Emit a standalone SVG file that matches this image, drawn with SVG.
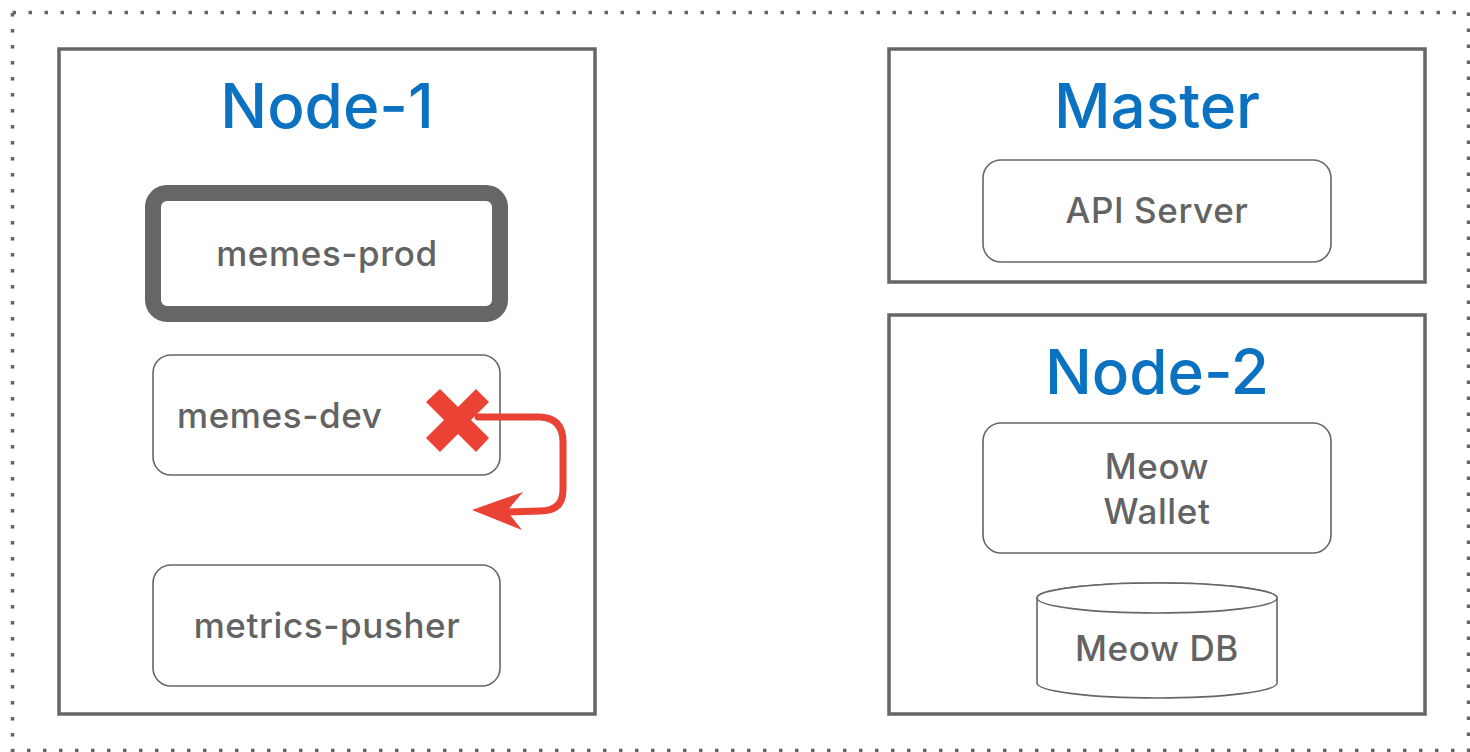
<svg xmlns="http://www.w3.org/2000/svg" width="1470" height="752" viewBox="0 0 1470 752">
  <style>
    .frame { fill: none; stroke: #666666; stroke-width: 3.5; stroke-dasharray: 3.5 12.5; }
    .group { fill: #ffffff; stroke: #666666; stroke-width: 3.5; }
    .box { fill: #ffffff; stroke: #666666; stroke-width: 1.6; }
    .box-bold { fill: #ffffff; stroke: #666666; stroke-width: 16; }
    .title { font-family: Inter, Roboto, "Liberation Sans", sans-serif; font-weight: 500; font-size: 62px; fill: #0a72c0; text-anchor: middle; }
    .label { font-family: Inter, Roboto, "Liberation Sans", sans-serif; font-weight: 500; font-size: 35px; letter-spacing: 0.6px; fill: #636363; text-anchor: middle; }
    .fail { fill: #ea4335; }
    .fail-line { fill: none; stroke: #ea4335; stroke-width: 7; stroke-linecap: round; }
  </style>

  <rect width="1470" height="752" fill="#ffffff"/>

  <!-- cluster boundary -->
  <rect class="frame" x="12.5" y="12.5" width="1456" height="738"/>

  <g id="node-1">
    <rect class="group" x="59" y="49" width="536" height="665"/>
    <text class="title" x="327" y="128">Node-1</text>
  </g>

  <g id="memes-prod">
    <rect class="box-bold" x="153" y="193" width="347" height="121" rx="14"/>
    <text class="label" x="327" y="266">memes-prod</text>
  </g>

  <g id="memes-dev">
    <rect class="box" x="153" y="355" width="347" height="120" rx="18"/>
    <text class="label" x="177" y="428" style="text-anchor:start">memes-dev</text>
  </g>

  <g id="metrics-pusher">
    <rect class="box" x="153" y="565" width="347" height="121" rx="18"/>
    <text class="label" x="327" y="638">metrics-pusher</text>
  </g>

  <g id="master">
    <rect class="group" x="889" y="49" width="536" height="233"/>
    <text class="title" x="1157" y="128">Master</text>
  </g>

  <g id="api-server">
    <rect class="box" x="983" y="160" width="348" height="102" rx="18"/>
    <text class="label" x="1157" y="223">API Server</text>
  </g>

  <g id="node-2">
    <rect class="group" x="889" y="315" width="536" height="399"/>
    <text class="title" x="1157" y="394">Node-2</text>
  </g>

  <g id="meow-wallet">
    <rect class="box" x="983" y="423" width="348" height="130" rx="18"/>
    <text class="label" x="1157" y="479">Meow</text>
    <text class="label" x="1157" y="524">Wallet</text>
  </g>

  <g id="meow-db">
    <path class="box" d="M1037 598 L1037 683 A120 15 0 0 0 1277 683 L1277 598 A120 15 0 0 0 1037 598 Z"/>
    <ellipse class="box" cx="1157" cy="598" rx="120" ry="15"/>
    <text class="label" x="1157" y="661">Meow DB</text>
  </g>

  <g id="connectors">
    <!-- failed pod rescheduling arrow -->
    <path class="fail-line" d="M478 417 L540 417 Q563 418 563 442 L563 490 Q563 511 540 511 L505 512"/>
    <path class="fail" d="M472 510 L523 492 L507 511 L522 530 Z"/>
    <!-- failure mark -->
    <path class="fail" d="M440 389 L458 407 L476 389 L489 402 L471 420 L489 438 L476 452 L458 434 L440 452 L426 438 L444 420 L426 402 Z"/>
  </g>
</svg>
